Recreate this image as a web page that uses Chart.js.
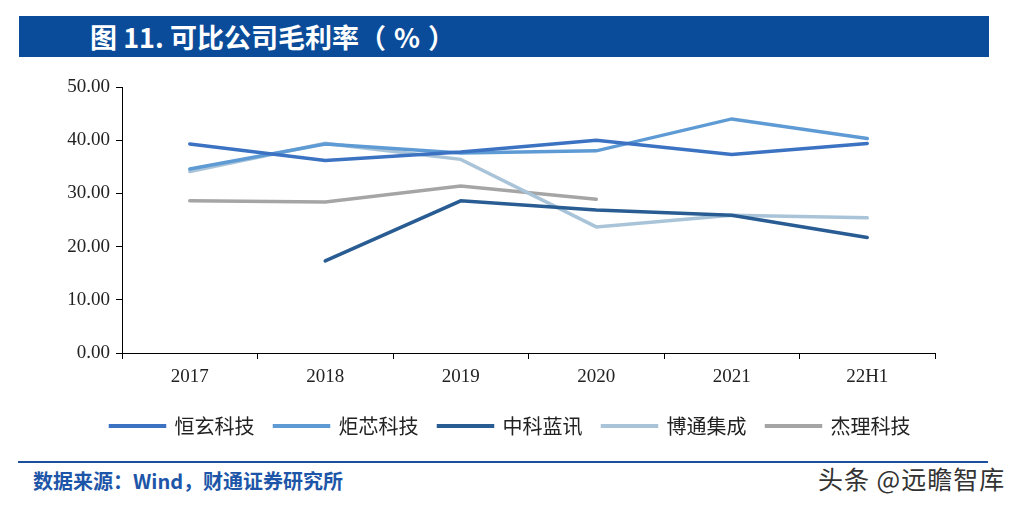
<!DOCTYPE html>
<html>
<head>
<meta charset="utf-8">
<script src="https://cdn.jsdelivr.net/npm/chart.js@4.4.1/dist/chart.umd.min.js"></script>
<style>
  html, body { margin: 0; padding: 0; background: #fff; }
  body { width: 1021px; height: 507px; position: relative; overflow: hidden; font-family: "Noto Sans CJK SC", sans-serif; }
  #banner { position: absolute; left: 19px; top: 16px; width: 970px; height: 41px; background: #0a4c9a; }
  #banner span.t { position: absolute; left: 71px; top: 0; line-height: 41px; color: #fff; font-size: 27px; font-weight: bold; white-space: nowrap; }
  #banner span.p { margin: 0 8px; }
  #wrap { position: absolute; left: 0; top: 60px; width: 1021px; height: 386px; }
  #rule { position: absolute; left: 18px; top: 461px; width: 970px; height: 2px; background: #1c4f9c; }
  #source { position: absolute; left: 33px; top: 468px; font-size: 20px; font-weight: bold; color: #1d56a8; white-space: nowrap; line-height: 26px; }
  #mark { position: absolute; left: 818px; top: 464px; font-size: 25px; letter-spacing: 1px; color: #333; white-space: nowrap; line-height: 28px; }
</style>
</head>
<body>
<div id="banner"><span class="t">图 11. 可比公司毛利率（<span class="p">%</span>）</span></div>
<div id="wrap"><canvas id="c" width="1021" height="386"></canvas></div>
<div id="rule"></div>
<div id="source">数据来源：Wind，财通证券研究所</div>
<div id="mark">头条 @远瞻智库</div>
<script>
const categories = ["2017", "2018", "2019", "2020", "2021", "22H1"];
const yTickValues = [0, 10, 20, 30, 40, 50];
const hengxuan = [39.3, 36.2, 37.8, 40.0, 37.3, 39.4];
const juxin = [34.6, 39.3, 37.6, 38.0, 44.0, 40.3];
const zhongke = [null, 17.3, 28.6, 26.9, 25.9, 21.7];
const botong = [34.1, 39.4, 36.4, 23.7, 25.9, 25.4];
const jieli = [28.6, 28.4, 31.4, 28.9, null, null];
const seriesNames = ["恒玄科技", "炬芯科技", "中科蓝讯", "博通集成", "杰理科技"];
const seriesColors = ["#3b72c2", "#5e9bd4", "#285c92", "#a9c4d8", "#a5a5a5"];

const seriesData = [hengxuan, juxin, zhongke, botong, jieli];
const datasets = seriesData.map((d, i) => ({
  label: seriesNames[i],
  data: d,
  borderColor: seriesColors[i],
  backgroundColor: seriesColors[i],
  borderWidth: 3.5,
  pointRadius: 0,
  tension: 0,
  spanGaps: false,
  borderCapStyle: 'round'
}));

new Chart(document.getElementById('c'), {
  type: 'line',
  data: { labels: categories, datasets },
  options: {
    responsive: false,
    animation: false,
    devicePixelRatio: 1,
    layout: { padding: { left: 0, right: 0, top: 27, bottom: 0 } },
    plugins: {
      tooltip: { enabled: false },
      legend: {
        position: 'bottom',
        labels: {
          boxWidth: 54,
          boxHeight: 0.5,
          padding: 20,
          color: '#222',
          font: { family: '"Noto Sans CJK SC"', size: 20 }
        }
      }
    },
    scales: {
      x: {
        offset: true,
        grid: { offset: true, drawOnChartArea: false, tickLength: 6, color: '#000', tickColor: '#000' },
        border: { color: '#000', width: 1 },
        ticks: { color: '#222', font: { family: '"Liberation Serif"', size: 19 }, padding: 7, maxRotation: 0 },
        afterFit: s => { s.height = 43; }
      },
      y: {
        min: 0, max: 50,
        afterBuildTicks: s => { s.ticks = yTickValues.map(v => ({ value: v })); },
        grid: { drawOnChartArea: false, tickLength: 6, color: '#000', tickColor: '#000' },
        border: { color: '#000', width: 1 },
        ticks: { color: '#222', font: { family: '"Liberation Serif"', size: 19 }, padding: 6, callback: v => Number(v).toFixed(2) },
        afterFit: s => { s.width = 122; }
      },
      yRight: {
        position: 'right',
        display: true,
        grid: { display: false },
        border: { display: false },
        ticks: { display: false },
        afterFit: s => { s.width = 86; }
      }
    }
  }
});
</script>
</body>
</html>
